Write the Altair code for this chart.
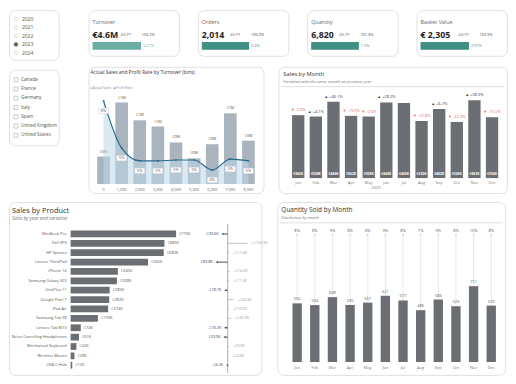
import altair as alt
import pandas as pd

FONT = "Open Sans"

# ---------------- data ----------------
years = ["2020", "2021", "2022", "2023", "2024"]
selected_year = "2023"
countries = ["Canada", "France", "Germany", "Italy", "Spain", "United Kingdom", "United States"]

kpi_names = ["Turnover", "Orders", "Quantity", "Basket Value"]
kpi_values = ["€4.6M", "2,014", "6,820", "€ 2,305"]
kpi_py_pct = [103.2, 100.3, 101.3, 102.9]
kpi_var = ["3.21%", "0.3%", "1.3%", "2.91%"]

bins = ["0", "1,000", "2,000", "3,000", "4,000", "5,000", "6,000", "7,000", "8,000"]
bin_sales = [0.31, 0.92, 0.72, 0.65, 0.47, 0.29, 0.45, 0.80, 0.49]
bin_profit = [7.9, 5.3, 4.6, 4.6, 4.65, 4.65, 4.1, 4.7, 4.6]

months = ["Jan", "Feb", "Mar", "Apr", "May", "Jun", "Jul", "Aug", "Sep", "Oct", "Nov", "Dec"]
month_sales = [366, 358, 444, 362, 358, 440, 436, 332, 402, 326, 453, 354]
month_var = [-5.8, 4.1, 46.1, -19.0, -0.6, 28.2, None, -10.8, 6.7, -22.4, 38.9, -15.0]

products = ["MacBook Pro", "Dell XPS", "HP Spectre", "Lenovo ThinkPad", "iPhone 14",
            "Samsung Galaxy S23", "OnePlus 11", "Google Pixel 7", "iPad Air", "Samsung Tab S8",
            "Lenovo Tab M10", "Noise Cancelling Headphones", "Mechanical Keyboard",
            "Wireless Mouse", "USB-C Hub"]
product_sales = [770, 685, 680, 565, 345, 338, 285, 282, 274, 199, 74, 61, 42, 28, 12]
product_var = [-39.6, 150.3, 11.0, -83.8, 14.2, 11.0, -18.7, 44.3, 10.0, 24.9, -19.2, -23.9, 9.0, 4.0, -4.2]

month_qty = [550, 534, 608, 535, 557, 621, 577, 486, 586, 523, 711, 529]

# ---------------- helpers ----------------
def panel_view():
    return alt.ViewBackground(fill="white", stroke="#e0e0e0", strokeWidth=1, cornerRadius=6)


def label(text, x, y, size, color="#333", weight="normal", style="normal", align="left"):
    return alt.Chart(alt.Data(values=[{"t": text}])).mark_text(
        font=FONT, fontSize=size, color=color, fontWeight=weight, fontStyle=style,
        align=align, baseline="middle"
    ).encode(x=alt.value(x), y=alt.value(y), text="t:N")


def hline(x1, x2, y, color="#c9c9c9"):
    return alt.Chart(alt.Data(values=[{"a": 1}])).mark_rule(color=color, strokeWidth=0.6).encode(
        x=alt.value(x1), x2=alt.value(x2), y=alt.value(y))


# ---------------- radio (years) ----------------
radio_df = pd.DataFrame({"year": years, "sel": [y == selected_year for y in years]})
ry = alt.Y("year:O", sort=years, scale=alt.Scale(range=[9, 43], padding=0), axis=None)
radio = alt.layer(
    alt.Chart(radio_df).mark_point(filled=True, size=14, strokeWidth=0.6).encode(
        x=alt.value(7), y=ry,
        fill=alt.condition("datum.sel", alt.value("#222"), alt.value("white")),
        stroke=alt.condition("datum.sel", alt.value("#222"), alt.value("#aaa"))),
    alt.Chart(radio_df).mark_text(align="left", baseline="middle", fontSize=5.0, font=FONT,
                                  color="#555").encode(x=alt.value(13), y=ry, text="year:N"),
).properties(width=50, height=50, view=panel_view())

# ---------------- checkboxes (countries) ----------------
cb_df = pd.DataFrame({"country": countries})
cy = alt.Y("country:O", sort=countries, scale=alt.Scale(range=[10, 66], padding=0), axis=None)
checks = alt.layer(
    alt.Chart(cb_df).mark_square(filled=False, size=16, color="#888", strokeWidth=0.6).encode(
        x=alt.value(7), y=cy),
    alt.Chart(cb_df).mark_text(align="left", baseline="middle", fontSize=4.8, font=FONT,
                               color="#555").encode(x=alt.value(12), y=cy, text="country:N"),
).properties(width=50, height=76, view=panel_view())

# ---------------- KPI cards ----------------
def kpi_card(i, bar_color):
    d = pd.DataFrame({"lo": [0], "py": [kpi_py_pct[i]], "v": [kpi_var[i]]})
    bx = alt.X("lo:Q", scale=alt.Scale(domain=[0, 190], range=[4, 94]), axis=None)
    vx = 8 + 4.9 * len(kpi_values[i])
    return alt.layer(
        label(kpi_names[i], 4, 12, 5.4, "#666"),
        label(kpi_values[i], 4, 25, 8.8, "#252525", weight="bold"),
        label("Δ% PY", vx, 25.5, 3.6, "#666"),
        label(f"{kpi_py_pct[i]:.1f}%", vx + 21, 25.5, 3.9, "#444"),
        alt.Chart(d).mark_rect(color=bar_color).encode(
            x=bx, x2="py:Q", y=alt.value(32), y2=alt.value(40)),
        alt.Chart(d).mark_text(align="left", baseline="middle", dx=2, fontSize=3.9, font=FONT,
                               color=bar_color).encode(
            x=alt.X("py:Q", scale=alt.Scale(domain=[0, 190], range=[4, 94]), axis=None),
            y=alt.value(36), text="v:N"),
    ).properties(width=91, height=46, view=panel_view())

cards = [kpi_card(0, "#6aaea4"), kpi_card(1, "#3f8f84"), kpi_card(2, "#3f8f84"), kpi_card(3, "#3f8f84")]

# ---------------- Actual Sales and Profit Rate ----------------
rate_min = 3.33
bin_df = pd.DataFrame({"bin": bins, "sales": bin_sales, "rate": bin_profit})
bin_df["base"] = rate_min
bin_df["slabel"] = ["€%dM" % round(v) for v in bin_sales]
bin_df["rlabel"] = ["%d%%" % round(v) for v in bin_profit]
abx = alt.X("bin:O", sort=bins, scale=alt.Scale(range=[6, 170], paddingInner=0.3, paddingOuter=0.15), axis=None)
asy = alt.Y("sales:Q", scale=alt.Scale(domain=[0, 1.0], range=[118, 28.9]), axis=None)
ary = alt.Y("rate:Q", scale=alt.Scale(domain=[rate_min, 8.3], range=[118, 27], zero=False), axis=None)
base_bins = alt.Chart(bin_df)
box_shape = "M-1,-0.55L1,-0.55L1,0.55L-1,0.55Z"
actual = alt.layer(
    label("Actual Sales and Profit Rate by Turnover (bins)", 2, 6, 4.9, "#333"),
    label("●", 1.5, 21, 3.6, "#a9b3be"),
    label("Actual Sales", 4, 21, 3.4, "#888"),
    label("●", 25, 21, 3.6, "#2b6a8c"),
    label("Profit Rate", 27.5, 21, 3.4, "#888"),
    base_bins.mark_bar(color="#aab4bf").encode(x=abx, y=asy),
    base_bins.mark_text(baseline="bottom", dy=-3, fontSize=3.9, font=FONT, color="#555").encode(
        x=abx, y=asy, text="slabel:N"),
    base_bins.mark_area(interpolate="monotone", color="#bcd7e8", opacity=0.55).encode(
        x=abx, y=ary, y2="base:Q"),
    base_bins.mark_line(interpolate="monotone", color="#2b6a8c", strokeWidth=1.2).encode(x=abx, y=ary),
    base_bins.mark_point(filled=True, size=5, color="#2b6a8c").encode(x=abx, y=ary),
    base_bins.mark_point(shape=box_shape, size=100, filled=True, fill="white", stroke="#cfcfcf",
                         strokeWidth=0.5, opacity=1, yOffset=10).encode(x=abx, y=ary),
    base_bins.mark_text(fontSize=3.9, font=FONT, color="#555", baseline="middle", dy=10).encode(
        x=abx, y=ary, text="rlabel:N"),
    base_bins.mark_text(fontSize=3.9, font=FONT, color="#666", baseline="middle").encode(
        x=abx, y=alt.value(123.5), text="bin:N"),
).resolve_scale(y="independent").properties(width=176, height=127, view=panel_view())

# ---------------- Sales by Month ----------------
month_df = pd.DataFrame({"month": months, "sales": month_sales, "var": month_var})
month_df["blabel"] = ["€%dK" % v for v in month_sales]
month_df["vlabel"] = ["" if v is None or pd.isna(v) else ("▲ +%.1f%%" % v if v > 0 else "▼ %.1f%%" % v)
                      for v in month_var]
month_df["pos"] = [bool(v is not None and not pd.isna(v) and v > 0) for v in month_var]
mx = alt.X("month:O", sort=months, scale=alt.Scale(range=[11.1, 223.8], paddingInner=0.3, paddingOuter=0.15), axis=None)
my = alt.Y("sales:Q", scale=alt.Scale(domain=[0, 500], range=[112, 25.5]), axis=None)
mb = alt.Chart(month_df)
month_chart = alt.layer(
    label("Sales by Month", 5, 7, 5.8, "#333"),
    label("Variation with the same month on previous year", 5, 15.5, 4.2, "#777", style="italic"),
    hline(3, 227, 20),
    mb.mark_bar(color="#6b6e72").encode(x=mx, y=my),
    mb.mark_text(baseline="middle", fontSize=3.4, font=FONT, color="white", fontWeight="bold").encode(
        x=mx, y=alt.value(108), text="blabel:N"),
    mb.mark_text(baseline="bottom", dy=-3, fontSize=4.0, font=FONT).encode(
        x=mx, y=my, text="vlabel:N",
        color=alt.condition("datum.pos", alt.value("#2d3e4e"), alt.value("#e06a6a"))),
    mb.mark_text(baseline="middle", fontSize=4.0, font=FONT, color="#777").encode(
        x=mx, y=alt.value(116.5), text="month:N"),
    label("2023", 98, 121.5, 4.0, "#777", align="center"),
).properties(width=230, height=127, view=panel_view())

# ---------------- Sales by Product ----------------
prod_df = pd.DataFrame({"product": products, "sales": product_sales, "var": product_var})
prod_df["zero"] = 0
prod_df["slabel"] = ["€%dK" % v for v in product_sales]
prod_df["vlabel"] = [("+€%.1fK" % v) if v > 0 else ("-€%.1fK" % abs(v)) for v in product_var]
py_ = alt.Y("product:O", sort=products, scale=alt.Scale(range=[27.5, 169], paddingInner=0.28, paddingOuter=0.14), axis=None)
px_ = alt.X("sales:Q", scale=alt.Scale(domain=[0, 800], range=[62, 172.2]), axis=None)
vscale = alt.Scale(domain=[-200, 200], range=[193.7, 246.3])
pb = alt.Chart(prod_df)
neg = pb.transform_filter("datum.var < 0")
posd = pb.transform_filter("datum.var >= 0")
product = alt.layer(
    label("Sales by Product", 3, 9, 7.5, "#333"),
    label("Sales by year and variation", 3, 17, 4.7, "#777", style="italic"),
    pb.mark_text(align="right", baseline="middle", fontSize=4.0, font=FONT, color="#555").encode(
        x=alt.value(58), y=py_, text="product:N"),
    pb.mark_bar(color="#6b6e72").encode(x=px_, y=py_),
    pb.mark_text(align="left", baseline="middle", dx=3, fontSize=4.0, font=FONT, color="#555").encode(
        x=alt.X("sales:Q", scale=alt.Scale(domain=[0, 800], range=[62, 172.2]), axis=None),
        y=py_, text="slabel:N"),
    alt.Chart(alt.Data(values=[{"a": 1}])).mark_rule(color="#8a8a8a", strokeWidth=0.7).encode(
        x=alt.value(220), y=alt.value(22), y2=alt.value(172)),
    neg.mark_rule(color="#2e4053", strokeWidth=0.9).encode(
        x=alt.X("var:Q", scale=vscale, axis=None), x2="zero:Q", y=py_),
    neg.mark_point(shape="triangle-left", filled=True, size=7, color="#2e4053").encode(
        x=alt.X("var:Q", scale=vscale, axis=None), y=py_),
    neg.mark_text(align="right", baseline="middle", dx=-4, fontSize=3.8, font=FONT, color="#2e4053").encode(
        x=alt.X("var:Q", scale=vscale, axis=None), y=py_, text="vlabel:N"),
    posd.mark_rule(color="#aaaaaa", strokeWidth=0.7).encode(
        x=alt.X("var:Q", scale=vscale, axis=None), x2="zero:Q", y=py_),
    posd.mark_text(align="left", baseline="middle", dx=4, fontSize=3.8, font=FONT, color="#999").encode(
        x=alt.X("var:Q", scale=vscale, axis=None), y=py_, text="vlabel:N"),
).resolve_scale(x="independent").properties(width=254, height=174, view=panel_view())

# ---------------- Quantity Sold by Month ----------------
total_qty = sum(month_qty)
q_df = pd.DataFrame({"month": months, "qty": month_qty})
q_df["plabel"] = ["%d%%" % round(100 * q / total_qty) for q in month_qty]
qx = alt.X("month:O", sort=months, scale=alt.Scale(range=[11, 224], paddingInner=0.47, paddingOuter=0.235), axis=None)
qy = alt.Y("qty:Q", scale=alt.Scale(domain=[0, 800], range=[161, 75.2]), axis=None)
qb = alt.Chart(q_df)
qty_chart = alt.layer(
    label("Quantity Sold by Month", 4, 8, 6.5, "#333"),
    label("Distribution by month", 4, 16, 3.9, "#777", style="italic"),
    hline(2, 227, 21),
    qb.mark_rule(color="#d5d5d5", strokeWidth=0.5).encode(x=qx, y=qy, y2=alt.value(33)),
    qb.mark_point(filled=True, size=3, color="#bbbbbb").encode(x=qx, y=alt.value(33)),
    qb.mark_text(baseline="middle", fontSize=4.0, font=FONT, color="#555").encode(
        x=qx, y=alt.value(29), text="plabel:N"),
    qb.mark_bar(color="#6b6e72").encode(x=qx, y=qy),
    qb.mark_text(baseline="bottom", dy=-2, fontSize=4.0, font=FONT, color="#555").encode(
        x=qx, y=qy, text="qty:Q"),
    qb.mark_text(baseline="middle", fontSize=4.0, font=FONT, color="#777").encode(
        x=qx, y=alt.value(167), text="month:N"),
).properties(width=229, height=174, view=panel_view())

# ---------------- layout ----------------
left_col = alt.vconcat(radio, checks, spacing=10, bounds="flush")
kpi_row = alt.hconcat(*cards, spacing=19, bounds="flush")
chart_row = alt.hconcat(actual, month_chart, spacing=15, bounds="flush")
right_col = alt.vconcat(kpi_row, chart_row, spacing=9)
row_a = alt.hconcat(left_col, right_col, spacing=28)
row_b = alt.hconcat(product, qty_chart, spacing=16, bounds="flush")

chart = alt.vconcat(row_a, row_b, spacing=7).properties(
    padding=0
).configure(font=FONT, background="white").configure_view(stroke="#e0e0e0")

chart.save("out.html", embed_options={"renderer": "svg", "actions": False})
